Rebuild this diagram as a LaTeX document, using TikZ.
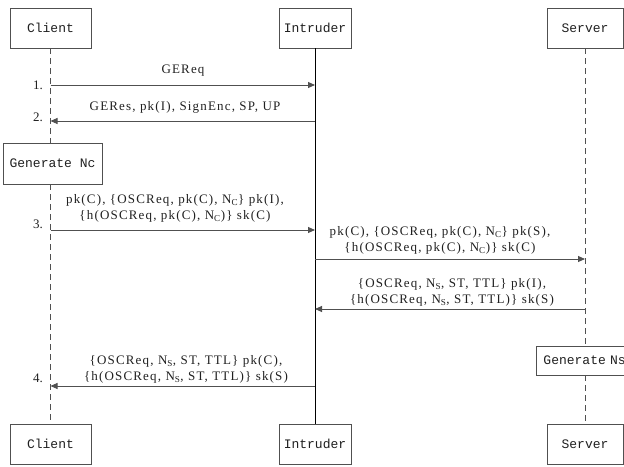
\documentclass[tikz,border=0pt]{standalone}
\usepackage{fontspec}
\setmainfont{Liberation Serif}
\newfontfamily\msgfont[LetterSpace=9]{Liberation Serif}
\newfontfamily\boxfont{Liberation Mono}
\usetikzlibrary{arrows.meta}

\definecolor{linegray}{HTML}{505050}
\definecolor{textgray}{HTML}{202020}

\tikzset{
  actor/.style={draw=linegray, line width=0.9pt, fill=white, minimum height=40pt,
                inner sep=0pt, font=\boxfont\fontsize{13}{15}\selectfont, text=textgray},
  lifedash/.style={draw=linegray, line width=0.9pt, dash pattern=on 6pt off 4pt},
  lifesolid/.style={draw=black, line width=0.9pt},
  msg/.style={draw=linegray, line width=0.9pt, -{Triangle[length=7pt,width=6pt]}},
  lbl/.style={font=\msgfont\fontsize{13}{16}\selectfont, text=textgray, align=center, inner sep=0pt},
  num/.style={font=\fontsize{13}{14}\selectfont, text=textgray, anchor=east, inner sep=0pt},
}

\begin{document}
\begin{tikzpicture}[x=1pt, y=-1pt]
  \useasboundingbox (0,0) rectangle (624,466);

  % participants, top and bottom
  \node[actor, minimum width=81pt] (cT) at (50.5,28) {Client};
  \node[actor, minimum width=72pt] (iT) at (315,28) {Intruder};
  \node[actor, minimum width=76pt] (sT) at (585,28) {Server};
  \node[actor, minimum width=81pt] (cB) at (50.5,444) {Client};
  \node[actor, minimum width=72pt] (iB) at (315,444) {Intruder};
  \node[actor, minimum width=76pt] (sB) at (585,444) {Server};

  % local actions
  \node[actor, minimum width=99pt, minimum height=41pt] (genC) at (52.5,163.5) {Generate Nc};
  \node[actor, anchor=west, minimum height=29pt, text width=92pt, inner xsep=7pt, align=left]
       (genS) at (536,360.5) {Generate Ns};

  % lifelines
  \draw[lifedash] (cT.south) -- (cT.south |- genC.north);
  \draw[lifedash] (cT.south |- genC.south) -- (cB.north);
  \draw[lifesolid] (iT.south) -- (iB.north);
  \draw[lifedash] (sT.south) -- (sT.south |- genS.north);
  \draw[lifedash] (sT.south |- genS.south) -- (sB.north);

  % message end points on the lifelines
  \coordinate (c1) at (cT.south |- 0,85);
  \coordinate (i1) at (iT.south |- 0,85);
  \coordinate (c2) at (cT.south |- 0,121);
  \coordinate (i2) at (iT.south |- 0,121);
  \coordinate (c3) at (cT.south |- 0,230);
  \coordinate (i3) at (iT.south |- 0,230);
  \coordinate (i5) at (iT.south |- 0,259);
  \coordinate (s5) at (sT.south |- 0,259);
  \coordinate (i6) at (iT.south |- 0,309);
  \coordinate (s6) at (sT.south |- 0,309);
  \coordinate (c4) at (cT.south |- 0,386);
  \coordinate (i4) at (iT.south |- 0,386);

  % messages
  \draw[msg] (c1) -- (i1);
  \draw[msg] (i2) -- (c2);
  \draw[msg] (c3) -- (i3);
  \draw[msg] (i5) -- (s5);
  \draw[msg] (s6) -- (i6);
  \draw[msg] (i4) -- (c4);

  % message labels
  \node[lbl] (m1) at (183,71) {GEReq};
  \node[lbl] (m2) at (185,107) {GERes, pk(I), SignEnc, SP, UP};
  \node[lbl] (m3) at (175,208)
    {pk(C), \{OSCReq, pk(C), N\textsubscript{C}\} pk(I),\\
     \{h(OSCReq, pk(C), N\textsubscript{C})\} sk(C)};
  \node[lbl] (m5) at (440,240)
    {pk(C), \{OSCReq, pk(C), N\textsubscript{C}\} pk(S),\\
     \{h(OSCReq, pk(C), N\textsubscript{C})\} sk(C)};
  \node[lbl] (m6) at (452,292)
    {\{OSCReq, N\textsubscript{S}, ST, TTL\} pk(I),\\
     \{h(OSCReq, N\textsubscript{S}, ST, TTL)\} sk(S)};
  \node[lbl] (m4) at (186,369)
    {\{OSCReq, N\textsubscript{S}, ST, TTL\} pk(C),\\
     \{h(OSCReq, N\textsubscript{S}, ST, TTL)\} sk(S)};

  % step numbers
  \node[num] (n1) at (43,85) {1.};
  \node[num] (n2) at (43,117) {2.};
  \node[num] (n3) at (43,224) {3.};
  \node[num] (n4) at (43,378) {4.};
\end{tikzpicture}
\end{document}
